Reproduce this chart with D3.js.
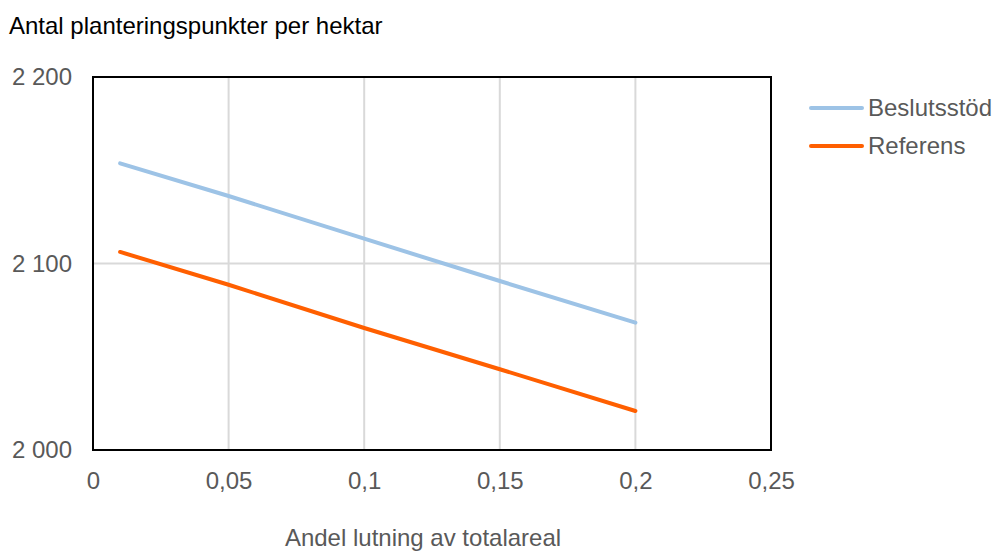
<!DOCTYPE html>
<html>
<head>
<meta charset="utf-8">
<script src="https://cdn.jsdelivr.net/npm/d3@7"></script>
<style>
  body { margin: 0; background: #fff; }
  text { font-family: "Liberation Sans", Arial, sans-serif; }
</style>
</head>
<body>
<div id="chart"></div>
<script>
const xValues = [0.01, 0.05, 0.1, 0.15, 0.2];
const beslutsstod = [2153.7, 2136.2, 2113.3, 2090.6, 2068.3];
const referens = [2106.2, 2088.6, 2065.4, 2043.3, 2020.9];
const xTicks = [0, 0.05, 0.1, 0.15, 0.2, 0.25];
const yTicks = [2000, 2100, 2200];

const series = [
  { name: 'Beslutsstöd', values: beslutsstod, color: '#9dc3e6' },
  { name: 'Referens', values: referens, color: '#ff5f00' }
];

const width = 995;
const height = 554;
const margin = { top: 77, right: 224, bottom: 104, left: 93 };
const textGrey = '#595959';
const fontSize = '24px';

const svg = d3.select('#chart')
  .append('svg')
  .attr('width', width)
  .attr('height', height);

const x = d3.scaleLinear().domain([0, 0.25]).range([margin.left, width - margin.right]);
const y = d3.scaleLinear().domain([2000, 2200]).range([height - margin.bottom, margin.top]);

const fmtX = d => d3.format('')(d).replace('.', ',');
const fmtY = d => d3.format(',')(d).replace(',', ' ');

// gridlines
svg.append('g')
  .selectAll('line.vg')
  .data(xTicks.slice(1, -1))
  .enter()
  .append('line')
  .attr('x1', d => x(d)).attr('x2', d => x(d))
  .attr('y1', y(2200)).attr('y2', y(2000))
  .attr('stroke', '#d9d9d9')
  .attr('stroke-width', 2);

svg.append('g')
  .selectAll('line.hg')
  .data(yTicks.slice(1, -1))
  .enter()
  .append('line')
  .attr('x1', x(0)).attr('x2', x(0.25))
  .attr('y1', d => y(d)).attr('y2', d => y(d))
  .attr('stroke', '#d9d9d9')
  .attr('stroke-width', 2);

// frame
svg.append('rect')
  .attr('x', x(0))
  .attr('y', y(2200))
  .attr('width', x(0.25) - x(0))
  .attr('height', y(2000) - y(2200))
  .attr('fill', 'none')
  .attr('stroke', '#000')
  .attr('stroke-width', 2);

// axes labels
const xAxis = svg.append('g')
  .attr('transform', `translate(0, ${y(2000) + 19})`)
  .call(d3.axisBottom(x).tickValues(xTicks).tickFormat(fmtX).tickSize(0));
xAxis.select('.domain').remove();
xAxis.selectAll('text')
  .attr('fill', textGrey)
  .style('font-size', fontSize);

const yAxis = svg.append('g')
  .attr('transform', `translate(${x(0) - 18}, 0)`)
  .call(d3.axisLeft(y).tickValues(yTicks).tickFormat(fmtY).tickSize(0));
yAxis.select('.domain').remove();
yAxis.selectAll('text')
  .attr('fill', textGrey)
  .attr('dy', '0.32em')
  .style('font-size', fontSize);

// lines
const line = d3.line()
  .x((d, i) => x(xValues[i]))
  .y(d => y(d));

svg.selectAll('path.series')
  .data(series)
  .enter()
  .append('path')
  .attr('class', 'series')
  .attr('d', d => line(d.values))
  .attr('fill', 'none')
  .attr('stroke', d => d.color)
  .attr('stroke-width', 4)
  .attr('stroke-linecap', 'round');

// legend
const legend = svg.selectAll('g.legend')
  .data(series)
  .enter()
  .append('g')
  .attr('transform', (d, i) => `translate(811, ${108 + i * 38})`);

legend.append('line')
  .attr('x1', 0).attr('x2', 51)
  .attr('stroke', d => d.color)
  .attr('stroke-width', 4)
  .attr('stroke-linecap', 'round');

legend.append('text')
  .attr('x', 57)
  .attr('dy', '0.35em')
  .attr('fill', textGrey)
  .style('font-size', fontSize)
  .text(d => d.name);

// titles
svg.append('text')
  .attr('x', 9)
  .attr('y', 34)
  .attr('fill', '#000')
  .style('font-size', fontSize)
  .text('Antal planteringspunkter per hektar');

svg.append('text')
  .attr('x', 423)
  .attr('y', 546)
  .attr('text-anchor', 'middle')
  .attr('fill', textGrey)
  .style('font-size', fontSize)
  .text('Andel lutning av totalareal');
</script>
</body>
</html>
